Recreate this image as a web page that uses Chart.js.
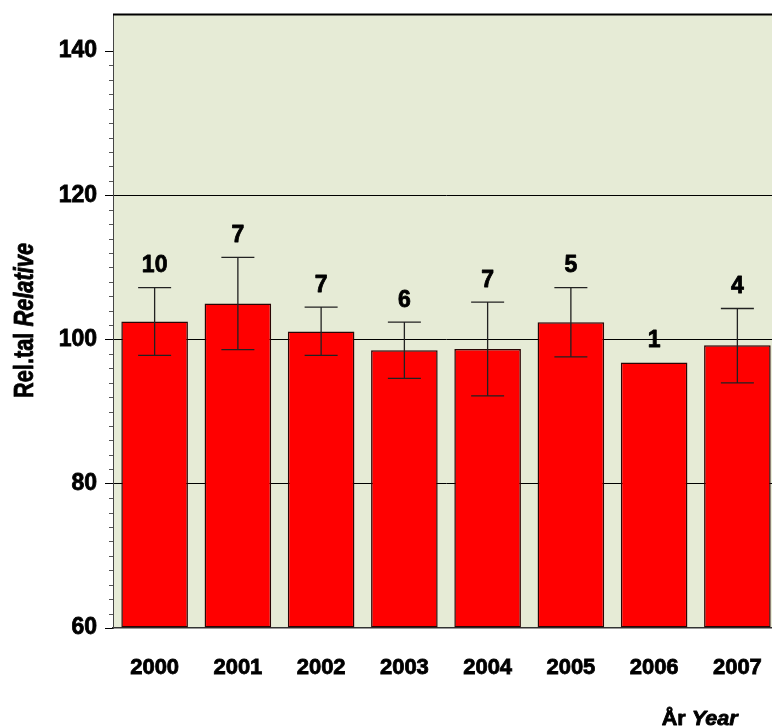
<!DOCTYPE html>
<html><head><meta charset="utf-8">
<script src="https://cdn.jsdelivr.net/npm/chart.js@4/dist/chart.umd.min.js"></script>
<style>
html,body{margin:0;padding:0;background:#fff;overflow:hidden;width:772px;height:726px}
#wrap{position:relative;width:780px;height:726px}
canvas{display:block}
</style></head>
<body><div id="wrap"><canvas id="c" width="780" height="726"></canvas></div>
<script>
const years = ['2000','2001','2002','2003','2004','2005','2006','2007'];
const relValues = [102.5, 105.0, 101.1, 98.5, 98.7, 102.4, 96.8, 99.2];
const errHigh = [107.2, 111.4, 104.5, 102.4, 105.2, 107.2, null, 104.3];
const errLow  = [97.8, 98.6, 97.8, 94.6, 92.2, 97.6, null, 94.0];
const counts = [10, 7, 7, 6, 7, 5, 1, 4];
const majorTicks = [60, 80, 100, 120, 140];
const gridValues = [80, 100, 120];
const yTitleParts = ['Rel.tal ', 'Relative'];
const xTitleParts = ['År ', 'Year'];

const FONT = '"Liberation Sans", Arial, sans-serif';
const STROKE = 0.8;

const extras = {
  id: 'extras',
  beforeDraw(chart) {
    const {ctx, chartArea: a} = chart;
    ctx.save();
    ctx.fillStyle = '#e6ebd6';
    ctx.fillRect(a.left, a.top, a.right - a.left, a.bottom - a.top);
    ctx.restore();
  },
  afterDraw(chart) {
    const {ctx, chartArea: a} = chart;
    const xs = chart.scales.x, ys = chart.scales.y;
    ctx.save();
    ctx.strokeStyle = '#000'; ctx.lineWidth = 2;
    ctx.beginPath(); ctx.moveTo(a.left, a.top - 0.5); ctx.lineTo(a.right, a.top - 0.5); ctx.stroke();
    ctx.strokeStyle = '#555'; ctx.lineWidth = 1;
    ys.ticks.forEach(t => {
      if (majorTicks.includes(t.value)) return;
      const py = Math.round(ys.getPixelForValue(t.value)) + 0.5;
      ctx.beginPath(); ctx.moveTo(a.left - 4, py); ctx.lineTo(a.left, py); ctx.stroke();
    });
    ctx.strokeStyle = '#222'; ctx.lineWidth = 1.3;
    years.forEach((yr, i) => {
      if (errHigh[i] == null) return;
      const px = xs.getPixelForValue(i);
      const ph = ys.getPixelForValue(errHigh[i]);
      const pl = ys.getPixelForValue(errLow[i]);
      ctx.beginPath();
      ctx.moveTo(px, ph); ctx.lineTo(px, pl);
      ctx.moveTo(px - 16.5, ph); ctx.lineTo(px + 16.5, ph);
      ctx.moveTo(px - 16.5, pl); ctx.lineTo(px + 16.5, pl);
      ctx.stroke();
    });
    ctx.fillStyle = '#000'; ctx.strokeStyle = '#000'; ctx.lineWidth = STROKE; ctx.lineJoin = 'round';
    ctx.font = 'bold 23px ' + FONT;
    ctx.textAlign = 'center'; ctx.textBaseline = 'alphabetic';
    years.forEach((yr, i) => {
      const px = xs.getPixelForValue(i);
      const ref = errHigh[i] != null ? errHigh[i] : relValues[i];
      const py = ys.getPixelForValue(ref);
      ctx.fillText(String(counts[i]), px, py - 15.5);
      ctx.strokeText(String(counts[i]), px, py - 15.5);
    });
    drawMixed(ctx, yTitleParts, 27, 155, 33, 320.5, true);
    drawMixed(ctx, xTitleParts, 20, 76, 699.7, 724.5, false);
    ctx.restore();
  }
};

function drawMixed(ctx, parts, size, targetLen, cx, baseY, rotated) {
  const fonts = ['bold ' + size + 'px ' + FONT, 'italic bold ' + size + 'px ' + FONT];
  const widths = parts.map((p, k) => { ctx.font = fonts[k]; return ctx.measureText(p).width; });
  const total = widths.reduce((s, w) => s + w, 0);
  const sc = targetLen / total;
  ctx.save();
  ctx.translate(cx, baseY);
  if (rotated) ctx.rotate(-Math.PI / 2);
  ctx.scale(sc, 1);
  ctx.textAlign = 'left'; ctx.textBaseline = 'alphabetic';
  ctx.fillStyle = '#000'; ctx.strokeStyle = '#000'; ctx.lineWidth = STROKE; ctx.lineJoin = 'round';
  let x = -total / 2;
  parts.forEach((p, k) => {
    ctx.font = fonts[k];
    ctx.fillText(p, x, 0);
    ctx.strokeText(p, x, 0);
    x += widths[k];
  });
  ctx.restore();
}

new Chart(document.getElementById('c'), {
  type: 'bar',
  data: {
    labels: years,
    datasets: [{
      data: relValues,
      base: 60,
      backgroundColor: '#ff0000',
      borderColor: '#2a0505',
      borderWidth: 1.5,
      borderSkipped: false,
      barPercentage: 0.8,
      categoryPercentage: 1.0
    }]
  },
  options: {
    responsive: false,
    devicePixelRatio: 1,
    animation: false,
    layout: { padding: { top: 15, right: 1, left: 0, bottom: 0 } },
    plugins: { legend: { display: false }, tooltip: { enabled: false } },
    scales: {
      x: {
        afterFit(s) { s.height = 98; s.paddingLeft = 0; s.paddingRight = 0; },
        grid: { display: false, drawTicks: false },
        border: { display: true, color: '#333', width: 1.5 },
        ticks: {
          font: { family: FONT, size: 22, weight: 'bold' }, color: '#000', padding: 27, maxRotation: 0,
          textStrokeColor: '#000', textStrokeWidth: STROKE
        }
      },
      y: {
        min: 60, max: 145,
        afterFit(s) { s.width = 113; s.paddingTop = 0; s.paddingBottom = 0; },
        afterBuildTicks(s) { s.ticks = s.ticks.filter(t => t.value <= 140); },
        grid: {
          color: c => (c.tick && gridValues.includes(c.tick.value)) ? '#000' : 'rgba(0,0,0,0)',
          tickColor: c => (c.tick && majorTicks.includes(c.tick.value)) ? '#000' : 'rgba(0,0,0,0)',
          tickLength: 8,
          lineWidth: 1
        },
        border: { display: true, color: '#444', width: 1 },
        ticks: {
          stepSize: 2,
          includeBounds: false,
          autoSkip: false,
          padding: 8,
          color: '#000',
          textStrokeColor: '#000', textStrokeWidth: STROKE,
          font: { family: FONT, size: 23, weight: 'bold' },
          callback: v => majorTicks.includes(v) ? String(v) : ''
        }
      }
    }
  },
  plugins: [extras]
});
</script>
</body></html>
